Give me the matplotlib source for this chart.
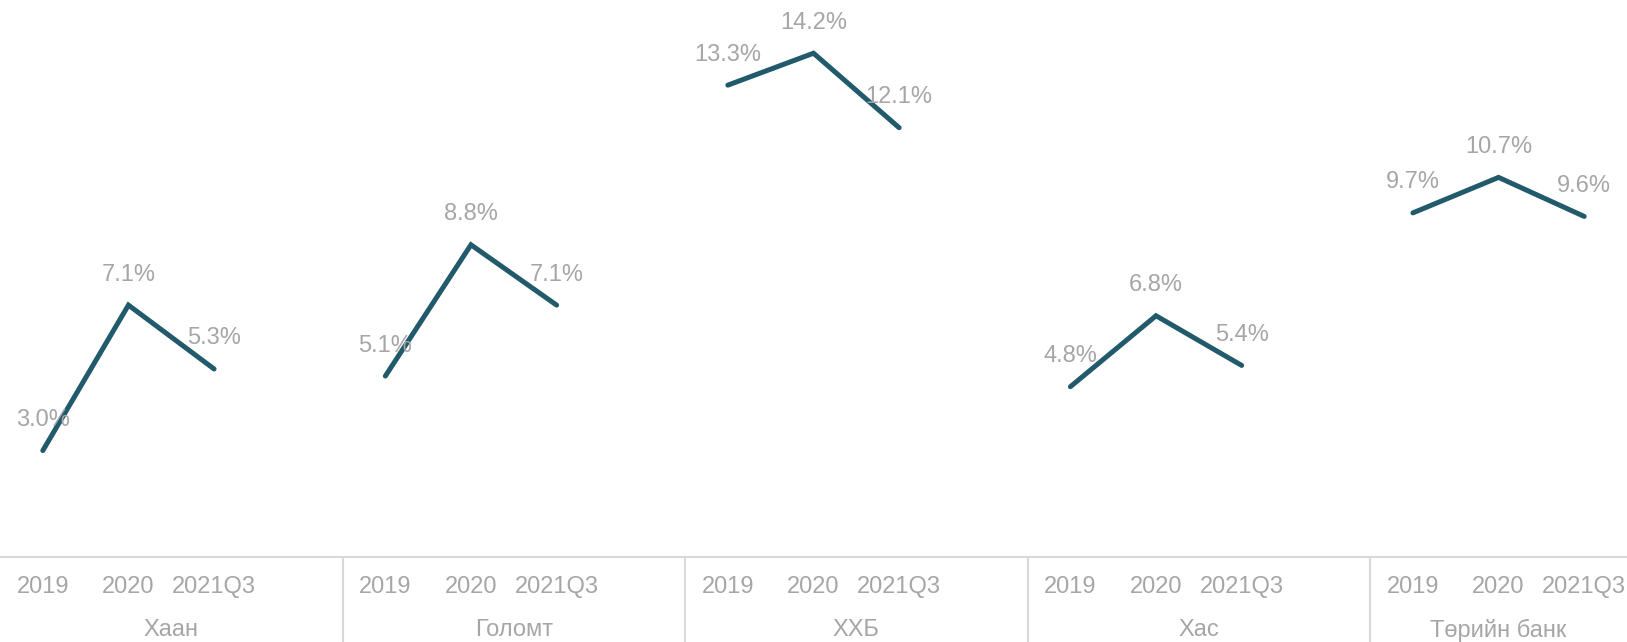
import matplotlib.pyplot as plt
from matplotlib.transforms import blended_transform_factory

plt.rcParams["font.family"] = ["Liberation Sans", "DejaVu Sans"]

banks = ["Хаан", "Голомт", "ХХБ", "Хас", "Төрийн банк"]
periods = ["2019", "2020", "2021Q3"]
values = [
    [3.0, 7.1, 5.3],
    [5.1, 8.8, 7.1],
    [13.3, 14.2, 12.1],
    [4.8, 6.8, 5.4],
    [9.7, 10.7, 9.6],
]

line_color = "#215a6b"
text_color = "#a6a6a6"
grid_color = "#d9d9d9"

fig = plt.figure(figsize=(16.27, 6.42), dpi=100)
ax = fig.add_axes([0, 85 / 642, 1, 557 / 642])

for g, vals in enumerate(values):
    xs = [4 * g + i for i in range(len(vals))]
    ax.plot(xs, vals, color=line_color, lw=3.6, solid_capstyle="round",
            solid_joinstyle="miter")
    for x, v in zip(xs, vals):
        ax.annotate(f"{v:.1f}%", (x, v), xytext=(0, 22), textcoords="offset points",
                    ha="center", va="center", fontsize=17, color=text_color)

ax.set_xlim(-0.5, 18.5)
ax.set_ylim(0, 15.7)
ax.axis("off")

trans = blended_transform_factory(ax.transData, ax.transAxes)
# axis line
ax.plot([-0.5, 18.5], [0, 0], transform=trans, color=grid_color, lw=1.5, clip_on=False)

n = len(banks)
for g, bank in enumerate(banks):
    for i, p in enumerate(periods):
        ax.text(4 * g + i, -30 / 557, p, transform=trans, ha="center", va="center",
                fontsize=17, color=text_color)
    if g < n - 1:
        sep = 4 * g + 3.5
        ax.plot([sep, sep], [0, -90 / 557], transform=trans, color=grid_color,
                lw=1.5, clip_on=False)
        center = 4 * g + 1.5
    else:
        center = 4 * g + 1
    ax.text(center, -73 / 557, bank, transform=trans, ha="center", va="center",
            fontsize=17, color=text_color)

fig.savefig("out.png", dpi=100)
